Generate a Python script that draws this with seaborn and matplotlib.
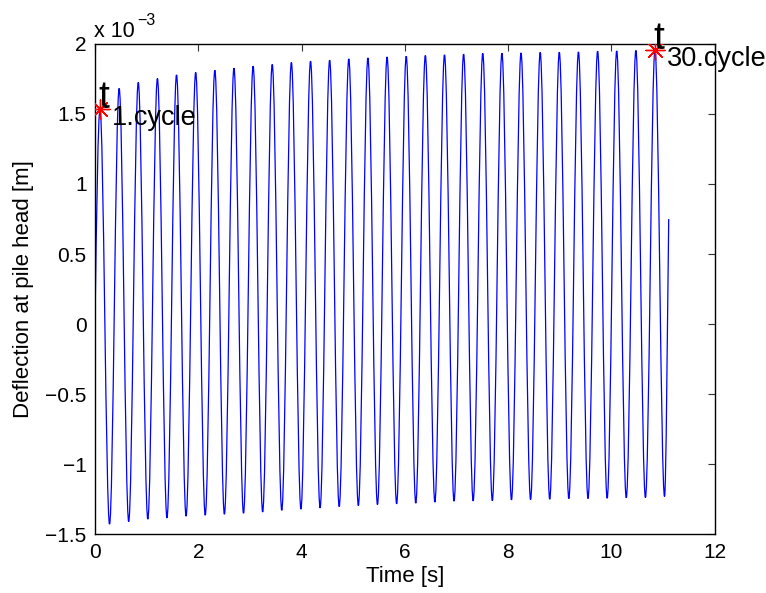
import matplotlib
matplotlib.use('Agg')
import pandas as pd
import matplotlib.pyplot as plt
import seaborn as sns
from matplotlib.path import Path
from matplotlib.patches import PathPatch
from matplotlib.ticker import FuncFormatter

# deflection values are in units of 1e-3 m
peak_time = [0.097, 0.468, 0.838, 1.209, 1.579, 1.950, 2.321, 2.691, 3.062, 3.432,
             3.803, 4.174, 4.544, 4.915, 5.285, 5.656, 6.027, 6.397, 6.768, 7.138,
             7.509, 7.880, 8.250, 8.621, 8.991, 9.362, 9.733, 10.103, 10.474, 10.844]
peak_defl = [1.534, 1.682, 1.725, 1.753, 1.779, 1.796, 1.812, 1.827, 1.841, 1.853,
             1.867, 1.877, 1.884, 1.893, 1.900, 1.907, 1.912, 1.917, 1.922, 1.927,
             1.932, 1.934, 1.936, 1.939, 1.941, 1.943, 1.948, 1.950, 1.953, 1.955]
trough_time = [0.282, 0.653, 1.023, 1.394, 1.764, 2.135, 2.506, 2.876, 3.247, 3.617,
               3.988, 4.359, 4.729, 5.100, 5.470, 5.841, 6.212, 6.582, 6.953, 7.323,
               7.694, 8.065, 8.435, 8.806, 9.176, 9.547, 9.918, 10.288, 10.659, 11.029]
trough_defl = [-1.428, -1.409, -1.392, -1.383, -1.371, -1.364, -1.357, -1.350, -1.341, -1.329,
               -1.321, -1.312, -1.302, -1.295, -1.288, -1.283, -1.278, -1.271, -1.264, -1.262,
               -1.260, -1.255, -1.252, -1.250, -1.245, -1.245, -1.243, -1.240, -1.238, -1.230]
start_time, start_defl = 0.0, 0.0
end_time, end_defl = 11.11, 0.75

cycle_labels = ['1.cycle', '30.cycle']

# extrema in time order: start, alternating peaks/troughs, end
times = [start_time]
defl = [start_defl]
for tp, dp, tt, dt in zip(peak_time, peak_defl, trough_time, trough_defl):
    times += [tp, tt]
    defl += [dp, dt]
times.append(end_time)
defl.append(end_defl)
df = pd.DataFrame({'Time': times, 'Deflection': defl})

marks = pd.DataFrame({'Time': [peak_time[0], peak_time[-1]],
                      'Deflection': [peak_defl[0], peak_defl[-1]],
                      'label': cycle_labels})

sns.set_style('white')
plt.rcParams['font.family'] = ['Liberation Sans', 'DejaVu Sans']
plt.rcParams['text.color'] = 'black'
plt.rcParams['axes.labelcolor'] = 'black'
plt.rcParams['xtick.color'] = 'black'
plt.rcParams['ytick.color'] = 'black'

fig = plt.figure(figsize=(7.66, 5.93), dpi=100)
ax = fig.add_axes([0.124, 0.099, 0.809, 0.827])

# smooth (sine-like) connection between the extrema: cubic bezier with flat tangents
c = 0.3634
verts = [(df.Time[0], df.Deflection[0])]
codes = [Path.MOVETO]
for i in range(1, len(df)):
    t0, d0 = df.Time[i - 1], df.Deflection[i - 1]
    t1, d1 = df.Time[i], df.Deflection[i]
    h = t1 - t0
    first = (t0 + c * h, d0) if i > 1 else (t0 + 0.3 * h, d0 + 0.5 * (d1 - d0))
    second = (t1 - c * h, d1) if i < len(df) - 1 else (t1 - 0.3 * h, d1 - 0.35 * (d1 - d0))
    verts += [first, second, (t1, d1)]
    codes += [Path.CURVE4] * 3
ax.add_patch(PathPatch(Path(verts, codes), fill=False, edgecolor='#0000ff',
                       linewidth=0.9, transform=ax.transData))

# marked cycles
sns.scatterplot(data=marks, x='Time', y='Deflection', marker=(8, 2, 0), s=190,
                color='red', edgecolor='red', linewidth=1.0, ax=ax, zorder=3)
for t, d, lab in zip(marks.Time, marks.Deflection, marks.label):
    ax.annotate('t', (t, d), xytext=(-1.5, 1.0), textcoords='offset points',
                fontsize=28, ha='left', va='baseline', annotation_clip=False)
    ax.annotate(lab, (t, d), xytext=(8.5, -11.5), textcoords='offset points',
                fontsize=19.5, ha='left', va='baseline', annotation_clip=False)

ax.set_xlim(0, 12)
ax.set_ylim(-1.5, 2)
ax.set_xticks([0, 2, 4, 6, 8, 10, 12])
ax.set_yticks([-1.5, -1, -0.5, 0, 0.5, 1, 1.5, 2])
fmt = FuncFormatter(lambda v, pos: ('%g' % v).replace('-', '\u2212'))
ax.xaxis.set_major_formatter(fmt)
ax.yaxis.set_major_formatter(fmt)
ax.tick_params(direction='in', length=5, width=0.8, top=True, right=True,
               labelsize=15, pad=6, color='#333333')
for s in ax.spines.values():
    s.set_color('black')
    s.set_linewidth(1.0)

ax.set_xlabel('Time [s]', fontsize=16, labelpad=3)
ax.set_ylabel('Deflection at pile head [m]', fontsize=16, labelpad=8)

# exponent label like the original
ax.text(-0.002, 1.014, 'x 10', transform=ax.transAxes, fontsize=15.5,
        ha='left', va='baseline')
ax.text(0.068, 1.038, '\u22123', transform=ax.transAxes, fontsize=11.5,
        ha='left', va='baseline')

fig.savefig('out.png', dpi=100)
